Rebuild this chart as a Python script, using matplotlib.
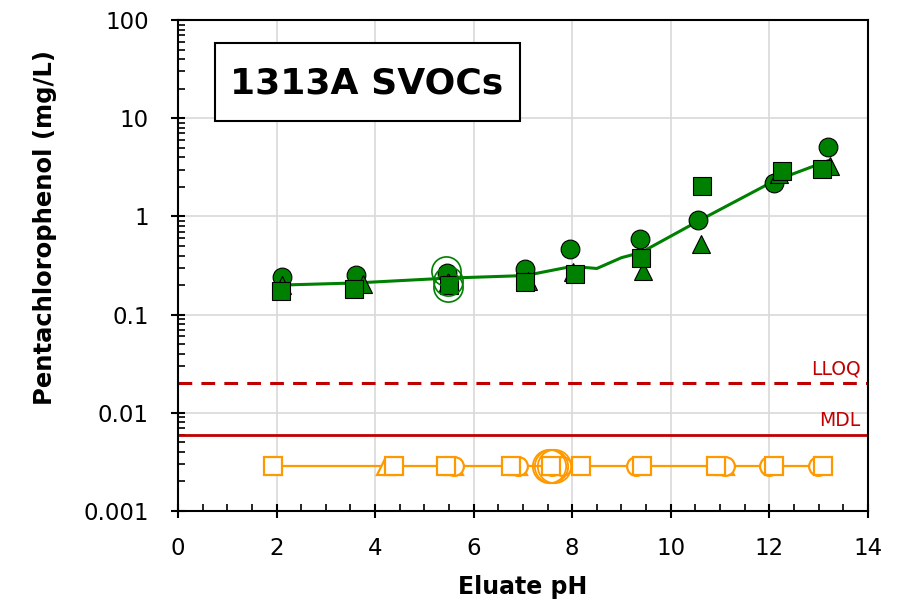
import numpy as np
import matplotlib.pyplot as plt
from matplotlib.patches import Rectangle
from matplotlib.ticker import LogLocator, MultipleLocator

# green series (detected)
ph_circ = [2.12, 3.62, 5.45, 7.04, 7.95, 9.37, 10.56, 12.09, 13.19]
pcp_circ = [0.24, 0.255, 0.264, 0.292, 0.463, 0.59, 0.91, 2.18, 5.08]
ph_tri = [2.12, 3.76, 5.47, 7.11, 8.02, 9.43, 10.62, 12.2, 13.24]
pcp_tri = [0.20, 0.206, 0.213, 0.222, 0.27, 0.276, 0.527, 2.7, 3.3]
ph_sq = [2.10, 3.58, 5.50, 7.05, 8.05, 9.39, 10.63, 12.25, 13.07]
pcp_sq = [0.173, 0.183, 0.200, 0.217, 0.259, 0.374, 2.04, 2.87, 3.06]
ph_fit = [2.1, 3.6, 5.45, 7.05, 8.0, 8.5, 9.0, 9.4, 10.6, 12.1, 13.2]
pcp_fit = [0.20, 0.21, 0.235, 0.25, 0.31, 0.295, 0.38, 0.43, 0.92, 2.3, 3.7]
ph_ring = [5.43, 5.47, 5.48]
pcp_ring = [0.276, 0.218, 0.193]

# orange series (non-detect)
nd_val = 0.0029
ph_nd_sq = [1.93, 4.39, 5.44, 6.75, 7.58, 8.17, 9.41, 10.91, 12.09, 13.09]
ph_nd_circ = [5.6, 6.9, 7.6, 7.8, 9.3, 11.1, 12.0, 12.98]
ph_nd_tri = [4.23, 5.6, 6.9, 7.6, 11.1]
ph_nd_ring = [7.52, 7.58, 7.64]

lloq = 0.02
mdl = 0.0059

GREEN = '#008000'
ORANGE = '#FF9900'
RED = '#C00000'

fig = plt.figure(figsize=(9.1, 6.09), dpi=100)
ax = fig.add_axes([0.1956, 0.161, 0.758, 0.806])

ax.axhline(lloq, color=RED, lw=2.2, ls=(0, (4.5, 3)), zorder=2)
ax.axhline(mdl, color=RED, lw=2.0, zorder=2)
ax.text(13.85, lloq * 1.12, 'LLOQ', color=RED, ha='right', va='bottom', fontsize=13.5)
ax.text(13.85, mdl * 1.12, 'MDL', color=RED, ha='right', va='bottom', fontsize=13.5)

# non-detects
ax.plot(ph_nd_sq, [nd_val] * len(ph_nd_sq), color=ORANGE, lw=1.6, zorder=3)
ax.plot(ph_nd_tri, [nd_val] * len(ph_nd_tri), '^', ms=13.5, mfc='white', mec=ORANGE, mew=1.6, ls='none', zorder=4)
ax.plot(ph_nd_circ, [nd_val] * len(ph_nd_circ), 'o', ms=13.5, mfc='white', mec=ORANGE, mew=1.6, ls='none', zorder=5)
ax.plot(ph_nd_sq, [nd_val] * len(ph_nd_sq), 's', ms=13.5, mfc='white', mec=ORANGE, mew=1.6, ls='none', zorder=6)
ax.plot(ph_nd_ring, [nd_val] * len(ph_nd_ring), 'o', ms=24, mfc='none', mec=ORANGE, mew=1.3, ls='none', zorder=7)

# detects
ax.plot(ph_fit, pcp_fit, color=GREEN, lw=2.2, zorder=3)
ax.plot(ph_circ, pcp_circ, 'o', ms=13.5, mfc=GREEN, mec='black', mew=0.8, ls='none', zorder=4)
ax.plot(ph_tri, pcp_tri, '^', ms=13.5, mfc=GREEN, mec='black', mew=0.8, ls='none', zorder=5)
ax.plot(ph_sq, pcp_sq, 's', ms=13.5, mfc=GREEN, mec='black', mew=0.8, ls='none', zorder=6)
ax.plot(ph_ring, pcp_ring, 'o', ms=21, mfc='none', mec=GREEN, mew=1.2, ls='none', zorder=7)

ax.set_yscale('log')
ax.set_xlim(0, 14)
ax.set_ylim(0.001, 100)
ax.xaxis.set_major_locator(MultipleLocator(2))
ax.xaxis.set_minor_locator(MultipleLocator(0.5))
ax.yaxis.set_minor_locator(LogLocator(base=10, subs=np.arange(2, 10), numticks=20))
ax.set_yticks([0.001, 0.01, 0.1, 1, 10, 100])
ax.set_yticklabels(['0.001', '0.01', '0.1', '1', '10', '100'])

ax.grid(True, which='major', color='#D9D9D9', lw=1.2, zorder=0)
ax.set_axisbelow(True)

ax.tick_params(axis='both', which='major', direction='inout', length=10, width=1.5,
               labelsize=16.5, top=False, right=False)
ax.tick_params(axis='y', which='major', pad=16)
ax.tick_params(axis='x', which='major', pad=14)
ax.tick_params(axis='both', which='minor', direction='in', length=5, width=1.2,
               top=False, right=False)
for s in ax.spines.values():
    s.set_linewidth(1.5)

ax.set_xlabel('Eluate pH', fontsize=17, fontweight='bold')
ax.set_ylabel('Pentachlorophenol (mg/L)', fontsize=17.5, fontweight='bold')
ax.xaxis.set_label_coords(0.5, -0.13)
ax.yaxis.set_label_coords(-0.175, 0.577)

# title box
fig.add_artist(Rectangle((215 / 910, 1 - 121 / 609), 305 / 910, 78 / 609,
                         transform=fig.transFigure, fc='white', ec='black', lw=1.5, zorder=10))
fig.text(367 / 910, 1 - 83 / 609, '1313A SVOCs', fontsize=26, fontweight='bold',
         ha='center', va='center', zorder=11)

fig.savefig('out.png', dpi=100)
